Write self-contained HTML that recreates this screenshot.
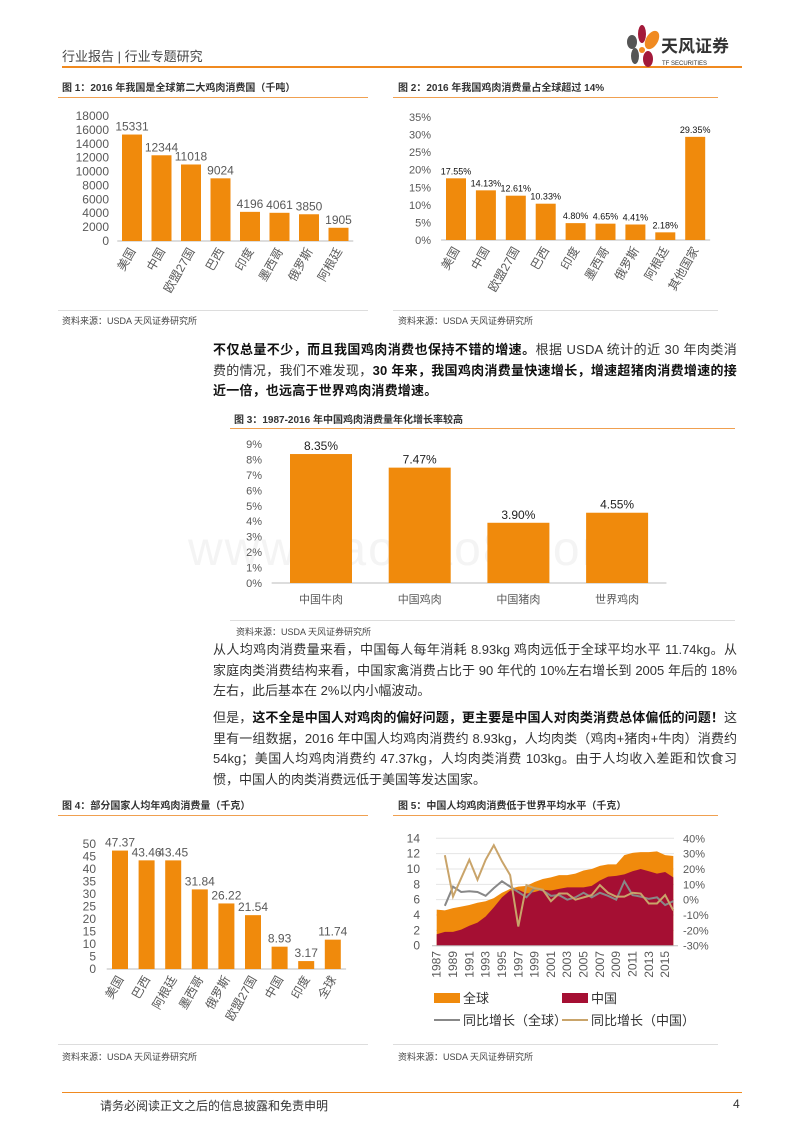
<!DOCTYPE html>
<html><head><meta charset="utf-8">
<style>
body{margin:0;background:#fff;}
#page{position:relative;width:800px;height:1132px;overflow:hidden;font-family:"Liberation Sans","Noto Sans CJK SC",sans-serif;color:#222;}
.t{position:absolute;white-space:nowrap;}
.p{position:absolute;font-size:13px;line-height:20.7px;color:#333;width:524px;text-align:justify;}
.p b{color:#111;}
.cap{position:absolute;font-size:10px;font-weight:bold;color:#333;}
.src{position:absolute;font-size:9px;color:#444;}
.hl{position:absolute;height:1px;background:#f0a050;}
</style></head><body>
<div id="page">
<div class="t" style="left:62px;top:46px;font-size:13px;color:#444;">行业报告 | 行业专题研究</div>
<div style="position:absolute;left:62px;top:66px;width:680px;height:2px;background:#f08a20;"></div>
<svg style="position:absolute;left:620px;top:22px" width="130" height="50">
<ellipse cx="22" cy="12" rx="4" ry="9" fill="#a31a3a"/><ellipse cx="32" cy="18" rx="6" ry="10" fill="#f08a20" transform="rotate(30 32 18)"/>
<ellipse cx="12" cy="20" rx="5" ry="7" fill="#555"/><ellipse cx="15" cy="34" rx="4" ry="8" fill="#555"/><ellipse cx="28" cy="37" rx="5" ry="8" fill="#a31a3a"/><circle cx="22" cy="28" r="3" fill="#f08a20"/>
<text x="41" y="30" font-size="17" font-weight="bold" fill="#333" font-family="Noto Sans CJK SC,sans-serif">天风证券</text>
<text x="42" y="43" font-size="6" fill="#333" font-family="Liberation Sans,sans-serif">TF SECURITIES</text></svg>

<div class="cap" style="left:62px;top:79px;">图 1：2016 年我国是全球第二大鸡肉消费国（千吨）</div>
<div class="hl" style="left:58px;top:97px;width:310px;"></div>
<div class="cap" style="left:398px;top:79px;">图 2：2016 年我国鸡肉消费量占全球超过 14%</div>
<div class="hl" style="left:393px;top:97px;width:325px;"></div>
<div class="hl" style="left:58px;top:310px;width:310px;background:#ddd;"></div>
<div class="hl" style="left:393px;top:310px;width:325px;background:#ddd;"></div>
<div class="src" style="left:62px;top:314px;">资料来源：USDA 天风证券研究所</div>
<div class="src" style="left:398px;top:314px;">资料来源：USDA 天风证券研究所</div>

<div class="p" style="left:213px;top:340px;letter-spacing:0.2px;"><b>不仅总量不少，而且我国鸡肉消费也保持不错的增速。</b>根据 USDA 统计的近 30 年肉类消费的情况，我们不难发现，<b>30 年来，我国鸡肉消费量快速增长，增速超猪肉消费增速的接近一倍，也远高于世界鸡肉消费增速。</b></div>
<div class="cap" style="left:234px;top:411px;">图 3：1987-2016 年中国鸡肉消费量年化增长率较高</div>
<div class="hl" style="left:230px;top:428px;width:505px;"></div>
<div class="t" style="left:188px;top:522px;font-size:48px;color:#f4f4f4;letter-spacing:2px;">www.baogao8.com</div>
<div class="hl" style="left:230px;top:620px;width:505px;background:#ddd;"></div>
<div class="src" style="left:236px;top:625px;">资料来源：USDA 天风证券研究所</div>
<div class="p" style="left:213px;top:640px;">从人均鸡肉消费量来看，中国每人每年消耗 8.93kg 鸡肉远低于全球平均水平 11.74kg。从家庭肉类消费结构来看，中国家禽消费占比于 90 年代的 10%左右增长到 2005 年后的 18%左右，此后基本在 2%以内小幅波动。</div>
<div class="p" style="left:213px;top:708px;">但是，<b>这不全是中国人对鸡肉的偏好问题，更主要是中国人对肉类消费总体偏低的问题！</b>这里有一组数据，2016 年中国人均鸡肉消费约 8.93kg，人均肉类（鸡肉+猪肉+牛肉）消费约 54kg；美国人均鸡肉消费约 47.37kg，人均肉类消费 103kg。由于人均收入差距和饮食习惯，中国人的肉类消费远低于美国等发达国家。</div>
<div class="cap" style="left:62px;top:797px;">图 4：部分国家人均年鸡肉消费量（千克）</div>
<div class="hl" style="left:58px;top:815px;width:310px;"></div>
<div class="cap" style="left:398px;top:797px;">图 5：中国人均鸡肉消费低于世界平均水平（千克）</div>
<div class="hl" style="left:393px;top:815px;width:325px;"></div>
<div class="hl" style="left:58px;top:1044px;width:310px;background:#ddd;"></div>
<div class="hl" style="left:393px;top:1044px;width:325px;background:#ddd;"></div>
<div class="src" style="left:62px;top:1050px;">资料来源：USDA 天风证券研究所</div>
<div class="src" style="left:398px;top:1050px;">资料来源：USDA 天风证券研究所</div>
<div style="position:absolute;left:62px;top:1092px;width:680px;height:1px;background:#f08a20;"></div>
<div class="t" style="left:100px;top:1097px;font-size:12px;color:#333;">请务必阅读正文之后的信息披露和免责申明</div>
<div class="t" style="left:733px;top:1097px;font-size:12px;color:#333;">4</div>

<svg id="charts" width="800" height="1132" style="position:absolute;left:0;top:0;font-family:'Liberation Sans','Noto Sans CJK SC',sans-serif;"></svg>
</div>
<script>
const c1Cats=["美国","中国","欧盟27国","巴西","印度","墨西哥","俄罗斯","阿根廷"];
const c1Vals=[15331,12344,11018,9024,4196,4061,3850,1905];
const c1Ticks=[0,2000,4000,6000,8000,10000,12000,14000,16000,18000];
const c2Cats=["美国","中国","欧盟27国","巴西","印度","墨西哥","俄罗斯","阿根廷","其他国家"];
const c2Vals=[17.55,14.13,12.61,10.33,4.80,4.65,4.41,2.18,29.35];
const c2Ticks=[0,5,10,15,20,25,30,35];
const c3Cats=["中国牛肉","中国鸡肉","中国猪肉","世界鸡肉"];
const c3Vals=[8.35,7.47,3.90,4.55];
const c3Ticks=[0,1,2,3,4,5,6,7,8,9];
const c4Cats=["美国","巴西","阿根廷","墨西哥","俄罗斯","欧盟27国","中国","印度","全球"];
const c4Vals=[47.37,43.46,43.45,31.84,26.22,21.54,8.93,3.17,11.74];
const c4Ticks=[0,5,10,15,20,25,30,35,40,45,50];
const c5Years=[1987,1988,1989,1990,1991,1992,1993,1994,1995,1996,1997,1998,1999,2000,2001,2002,2003,2004,2005,2006,2007,2008,2009,2010,2011,2012,2013,2014,2015,2016];
const c5World=[4.7,4.6,4.9,5.1,5.3,5.6,5.8,6.2,6.9,7.4,7.7,7.8,8.3,8.7,8.9,9.2,9.2,9.4,9.8,10.0,10.4,10.6,10.6,11.8,12.1,12.2,12.2,12.3,11.8,11.7];
const c5China=[1.5,1.8,1.8,2.1,2.6,3.0,3.8,5.0,6.3,7.2,7.3,6.8,7.0,7.3,7.2,7.4,7.6,7.6,7.6,7.8,8.5,9.0,9.1,9.3,9.7,10.0,9.7,9.4,9.6,8.9];
const c5WorldGr=[null,-4,8.5,5,5.5,5,2.5,7.5,12,8.5,5,1.5,7.5,6,2.5,3,0,1.5,4.5,1.5,4.5,2.5,0,12,3,2,0.5,1.5,-3.5,-1];
const c5ChinaGr=[null,29,2,14,26,13,26,35.5,25,16,-17.5,9.5,7.5,6.5,-1,4,4,0,1.5,3,9.5,4.5,2,2,4.5,4,-2.5,-2.5,3,-7];
const c5LTicks=[0,2,4,6,8,10,12,14];
const c5RTicks=[-30,-20,-10,0,10,20,30,40];

const svg=document.getElementById('charts');const NS='http://www.w3.org/2000/svg';
function mk(tag,attrs,txt){const e=document.createElementNS(NS,tag);for(const k in attrs)e.setAttribute(k,attrs[k]);if(txt!==undefined)e.textContent=txt;svg.appendChild(e);return e;}
const OR='#f08a0c',GR='#595959';

function barChart(o){
  const y=v=>o.y0-(v-o.min)/(o.max-o.min)*(o.y0-o.y1);
  o.ticks.forEach(t=>{const e=mk('text',{x:o.ax,y:y(t)+4,'text-anchor':'end','font-size':o.tfs,fill:GR},t+o.suf);
    });
  const bl=mk('line',{x1:o.cx(0)-o.step/2,x2:o.cx(o.cats.length-1)+o.step/2,y1:o.y0,y2:o.y0,stroke:'#bbb'});
  
  o.vals.forEach((v,i)=>{const cx=o.cx(i);
    const r=mk('rect',{x:cx-o.bw/2,y:y(v),width:o.bw,height:o.y0-y(v),fill:OR});
    
    const l=mk('text',{x:cx+(o.vdx||0),y:y(v)-4,'text-anchor':'middle','font-size':o.vfs,fill:o.vcol||GR},o.fmt(v));
    
    let c;
    if(o.rot){c=mk('text',{x:cx+4,y:o.y0+10,'text-anchor':'end','font-size':o.cfs,fill:GR,transform:`rotate(-60 ${cx+4} ${o.y0+10})`},o.cats[i]);}
    else c=mk('text',{x:cx,y:o.y0+20,'text-anchor':'middle','font-size':o.cfs,fill:GR},o.cats[i]);
    
  });
}
barChart({cats:c1Cats,vals:c1Vals,ticks:c1Ticks,min:0,max:18000,y0:241,y1:116,ax:109,suf:'',tfs:12,cx:i=>132+i*29.5,step:29.5,bw:20,vfs:12,fmt:v=>v,rot:true,cfs:12});
barChart({cats:c2Cats,vals:c2Vals,ticks:c2Ticks,min:0,max:35,y0:240,y1:117,ax:431,suf:'%',tfs:11,cx:i=>456+i*29.9,step:29.9,bw:20,vfs:9,vcol:'#111',fmt:v=>v.toFixed(2)+'%',rot:true,cfs:12});
barChart({cats:c3Cats,vals:c3Vals,ticks:c3Ticks,min:0,max:9,y0:583,y1:444,ax:262,suf:'%',tfs:11,cx:i=>321+i*98.7,step:98.7,bw:62,vfs:12,vcol:'#222',fmt:v=>v.toFixed(2)+'%',rot:false,cfs:11});
barChart({cats:c4Cats,vals:c4Vals,ticks:c4Ticks,min:0,max:50,y0:969,y1:844,ax:96,suf:'',tfs:12,cx:i=>120+i*26.6,step:26.6,bw:16,vfs:12,fmt:v=>v.toFixed(2).replace(/0$/,'').replace(/\.0$/,''),rot:true,cfs:12});

// chart 5
const X=i=>436.7+i*(673.3-436.7)/(c5Years.length-1);
const YL=v=>945.7-v/14*107.4;
const YR=v=>945.7-(v+30)/70*107.4;
c5LTicks.forEach(t=>{mk('line',{x1:436,x2:674,y1:YL(t),y2:YL(t),stroke:'#e4e4e4'});
  const e=mk('text',{x:420,y:YL(t)+4,'text-anchor':'end','font-size':12,fill:GR},t);});
c5RTicks.forEach(t=>{const e=mk('text',{x:683,y:YR(t)+4,'font-size':11,fill:GR},t+'%');});
function area(vals,col,name){let d='M'+X(0)+','+YL(0);vals.forEach((v,i)=>d+='L'+X(i)+','+YL(v));d+='L'+X(vals.length-1)+','+YL(0)+'Z';
  const p=mk('path',{d:d,fill:col});}
area(c5World,OR,'area-world');area(c5China,'#a50f33','area-china');
function line(vals,col,name){let d='';vals.forEach((v,i)=>{if(v===null)return;d+=(d?'L':'M')+X(i)+','+YR(v);});
  const p=mk('path',{d:d,fill:'none',stroke:col,'stroke-width':2});}
line(c5WorldGr,'#888','line-world-growth');line(c5ChinaGr,'#c9a46a','line-china-growth');
mk('line',{x1:432,x2:678,y1:YL(0),y2:YL(0),stroke:'#bbb'});
c5Years.forEach((yr,i)=>{if(i%2)return;const x=X(i)+4,y=951;
  const e=mk('text',{x:x,y:y,'text-anchor':'end','font-size':12,fill:GR,transform:`rotate(-90 ${x} ${y})`},yr);
  });
const lg=[[434,998,'rect',OR,'全球'],[562,998,'rect','#a50f33','中国'],[434,1020,'line','#888','同比增长（全球）'],[562,1020,'line','#c9a46a','同比增长（中国）']];
lg.forEach(a=>{let s;if(a[2]==='rect')s=mk('rect',{x:a[0],y:a[1]-5,width:26,height:10,fill:a[3]});else s=mk('line',{x1:a[0],x2:a[0]+26,y1:a[1],y2:a[1],stroke:a[3],'stroke-width':2});
  
  const t=mk('text',{x:a[0]+29,y:a[1]+5,'font-size':13,fill:'#333'},a[4]);});
</script>
</body></html>
